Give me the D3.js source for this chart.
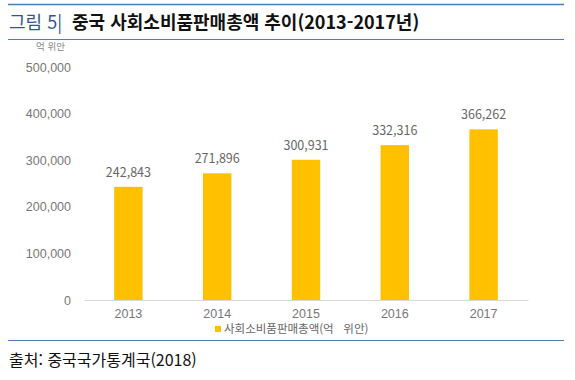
<!DOCTYPE html>
<html lang="ko">
<head>
<meta charset="UTF-8">
<title>중국 사회소비품판매총액 추이</title>
<script src="https://d3js.org/d3.v7.min.js"></script>
<style>
  body { margin: 0; background: #fff; }
  svg { font-family: "Noto Sans CJK KR", "Noto Sans", sans-serif; }
</style>
</head>
<body>
<svg width="575" height="380"></svg>
<script>
// 데이터
const years = ["2013", "2014", "2015", "2016", "2017"];
const sales = [242843, 271896, 300931, 332316, 366262];
const yTicks = [0, 100000, 200000, 300000, 400000, 500000];

const svg = d3.select("svg");

// 프레임 선과 제목
svg.append("line").attr("x1", 8).attr("x2", 564).attr("y1", 4.5).attr("y2", 4.5)
  .attr("stroke", "#4a7ebb").attr("stroke-width", 1.5);
svg.append("line").attr("x1", 8).attr("x2", 564).attr("y1", 39.5).attr("y2", 39.5)
  .attr("stroke", "#4a7ebb").attr("stroke-width", 1.2);
svg.append("line").attr("x1", 8).attr("x2", 564).attr("y1", 340.5).attr("y2", 340.5)
  .attr("stroke", "#4a7ebb").attr("stroke-width", 1.2);

const title = svg.append("text").attr("x", 9).attr("y", 29).attr("font-size", 18);
title.append("tspan").attr("fill", "#2f5597").text("그림 5| ");
title.append("tspan").attr("fill", "#111").attr("font-weight", "bold").attr("dx", 5)
  .text("중국 사회소비품판매총액 추이(2013-2017년)");

svg.append("text").attr("x", 9).attr("y", 366).attr("font-size", 16).attr("fill", "#111")
  .text("출처: 중국국가통계국(2018)");

// 스케일
const x = d3.scaleBand().domain(years).range([84, 528]).paddingInner(0.68).paddingOuter(0.34);
const y = d3.scaleLinear().domain([0, 500000]).range([300, 67]);

// 축
const yAxis = svg.append("g").attr("transform", "translate(71,0)")
  .call(d3.axisLeft(y).tickValues(yTicks).tickSize(0).tickPadding(0).tickFormat(d3.format(",")));
yAxis.select(".domain").remove();
yAxis.selectAll("text").attr("fill", "#777").attr("font-size", 12.5);

svg.append("text").attr("x", 65).attr("y", 50).attr("text-anchor", "end")
  .attr("font-size", 9.5).attr("fill", "#888").text("억 위안");

// 막대
svg.selectAll(".bar").data(sales).enter().append("rect")
  .attr("class", "bar")
  .attr("x", (d, i) => x(years[i]))
  .attr("y", d => y(d))
  .attr("width", x.bandwidth())
  .attr("height", d => y(0) - y(d))
  .attr("fill", "#ffc000");

svg.selectAll(".val").data(sales).enter().append("text")
  .attr("x", (d, i) => x(years[i]) + x.bandwidth() / 2)
  .attr("y", d => y(d) - 10)
  .attr("text-anchor", "middle").attr("font-size", 12.5).attr("fill", "#666")
  .text(d3.format(","));

const xAxis = svg.append("g").attr("transform", "translate(0,300)")
  .call(d3.axisBottom(x).tickSize(0).tickPadding(9));
xAxis.select(".domain").attr("stroke", "#d9d9d9");
xAxis.selectAll("text").attr("fill", "#777").attr("font-size", 12.5);

// 범례
svg.append("rect").attr("x", 215).attr("y", 326).attr("width", 6).attr("height", 6).attr("fill", "#ffc000");
svg.append("text").attr("x", 224).attr("y", 333).attr("font-size", 11.5).attr("fill", "#666")
  .style("white-space", "pre")
  .text("사회소비품판매총액(억   위안)");
</script>
</body>
</html>
